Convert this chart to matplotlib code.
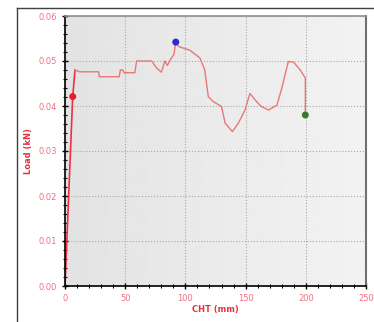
import numpy as np
import matplotlib.pyplot as plt
from matplotlib.lines import Line2D
from matplotlib.ticker import MultipleLocator

# trace
cht = [0, 6.4, 8.3, 12, 28, 28.5, 45, 46, 48, 49, 58, 59.5, 72, 76, 80, 83, 85, 88, 90.5, 92,
       94.5, 103.7, 112, 116, 119, 123, 130, 133, 139, 144, 149.5, 153.6, 159, 163, 169, 176,
       180, 185.5, 190, 195.4, 199.6, 199.6]
load = [0, 0.0421, 0.0480, 0.0476, 0.0476, 0.0465, 0.0465, 0.0480, 0.0480, 0.0474, 0.0474,
        0.0500, 0.0500, 0.0485, 0.0475, 0.0500, 0.0490, 0.0505, 0.0515, 0.0542,
        0.0532, 0.0524, 0.0507, 0.0481, 0.0421, 0.0410, 0.0399, 0.0362, 0.0343, 0.0362,
        0.0391, 0.0428, 0.0410, 0.0399, 0.0391, 0.0402, 0.0439, 0.0499, 0.0497, 0.0480,
        0.0462, 0.0380]
mark_x = [6.4, 92, 199.6]
mark_y = [0.0421, 0.0542, 0.0380]
mark_c = ['#e0202a', '#2a2ad0', '#3a7a2a']

fig = plt.figure(figsize=(3.74, 3.22), dpi=100)
ax = fig.add_axes([65 / 374, 36 / 322, 301 / 374, 270 / 322])

# light gray background, a bit darker on the left
grad = np.linspace(0.89, 0.95, 256).reshape(1, -1)
ax.imshow(grad, extent=[0, 250, 0, 0.06], aspect='auto', cmap='gray', vmin=0, vmax=1,
          zorder=0)

ax.plot(cht[:3], load[:3], color='#f03040', linewidth=1.2)
ax.plot(cht[2:], load[2:], color='#e87878', linewidth=1.0)
ax.scatter(mark_x, mark_y, c=mark_c, s=16, zorder=5)

ax.set_xlim(0, 250)
ax.set_ylim(0, 0.06)
ax.xaxis.set_major_locator(MultipleLocator(50))
ax.xaxis.set_minor_locator(MultipleLocator(10))
ax.yaxis.set_major_locator(MultipleLocator(0.01))
ax.yaxis.set_minor_locator(MultipleLocator(0.002))
ax.yaxis.set_major_formatter(plt.FuncFormatter(lambda v, p: '%.2f' % v))
ax.grid(True, which='major', color='#a8a8a8', linestyle=':', linewidth=0.8)
ax.tick_params(which='major', direction='inout', length=5, width=1, color='black',
               labelsize=6, labelcolor='#f07080', pad=3)
ax.tick_params(which='minor', direction='inout', length=3, width=0.8, color='black')
ax.set_xlabel('CHT (mm)', fontsize=6, color='#e83040', fontweight='bold', labelpad=2)
ax.set_ylabel('Load (kN)', fontsize=6, color='#e83040', fontweight='bold', labelpad=4)

for s in ['left', 'bottom']:
    ax.spines[s].set_color('black')
    ax.spines[s].set_linewidth(1.2)
ax.spines['right'].set_color('#707070')
ax.spines['right'].set_linewidth(1.5)
ax.spines['top'].set_color('#909090')
ax.spines['top'].set_linewidth(1.2)

# outer frame
fig.add_artist(Line2D([17 / 374, 17 / 374], [0, 1 - 8 / 322], color='#404040', linewidth=1))
fig.add_artist(Line2D([17 / 374, 1], [1 - 8 / 322, 1 - 8 / 322], color='#404040', linewidth=1))

plt.savefig('out.png', dpi=100)
